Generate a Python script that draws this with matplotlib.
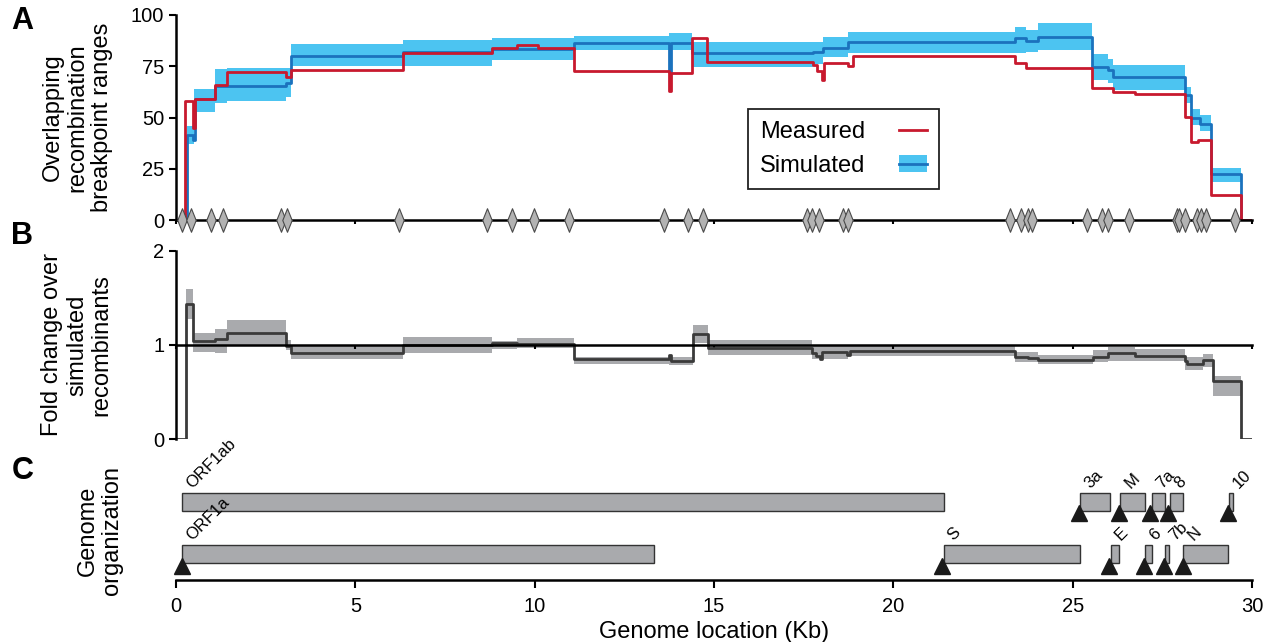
import numpy as np
import matplotlib
matplotlib.use('Agg')
import matplotlib.pyplot as plt
from matplotlib.patches import Patch, Rectangle
from matplotlib.lines import Line2D
from matplotlib.path import Path

plt.rcParams['font.family'] = ['Liberation Sans', 'DejaVu Sans']

# --- A: overlapping breakpoint ranges (step data, value holds until next x) ---
meas_x = [0, 0.25, 0.48, 0.52, 1.09, 1.41, 3.07, 3.2, 6.33, 8.8, 9.5, 10.1, 11.1, 13.75, 13.8,
          14.4, 14.8, 17.77, 17.86, 18.02, 18.07, 18.73, 18.87, 23.4, 23.7, 25.55, 26.13,
          26.74, 28.13, 28.31, 28.5, 28.87, 29.69]
meas_y = [0, 58, 45, 59, 66, 72, 70, 73.3, 81.3, 84, 85.5, 84, 72.5, 63, 71.5, 89, 77.2, 75.6,
          72.7, 68.3, 76.4, 75.3, 80.2, 76.4, 74.3, 64.2, 62.3, 61.3, 50.4, 38.2, 38.9, 12.2, 0]

sim_x = [0, 0.3, 0.48, 0.52, 1.09, 3.07, 3.2, 6.33, 8.8, 11.1, 13.75, 13.8, 14.4, 17.77, 18.05,
         18.73, 23.4, 23.7, 24.03, 25.55, 25.98, 26.13, 28.13, 28.31, 28.55, 28.87, 29.69]
sim_y = [0, 41.6, 39, 59, 65.4, 67, 80, 81.8, 83.5, 86.5, 72, 86.5, 81.3, 81.8, 84, 87, 88.6,
         87.5, 89.4, 74.8, 73.2, 69.6, 61, 50, 47, 22.4, 0]

band_x = [0.3, 0.5, 1.09, 1.41, 3.07, 3.2, 6.33, 8.8, 11.1, 13.75, 14.4, 17.77, 18.05, 18.73,
          23.4, 23.7, 24.03, 25.55, 25.98, 26.13, 28.13, 28.31, 28.55, 28.87, 29.69]
band_lo = [37, 52.5, 57, 58, 60, 75, 75, 78, 83, 82.7, 74.8, 76, 79.7, 81.3, 81.3, 81.8, 82.9,
           68.3, 66.6, 63.4, 56.9, 46.3, 43.2, 18.7]
band_hi = [45.9, 64, 73.5, 74, 74, 86, 88, 88.6, 90, 91, 86.7, 87, 89.4, 91.9, 94.3, 92.7, 96,
           80.8, 78.4, 75.6, 65, 54, 51.2, 25.5]

bp_pos = [0.16, 0.41, 0.97, 1.30, 2.93, 3.09, 6.21, 8.68, 9.38, 9.99, 10.96, 13.60, 14.27,
          14.68, 17.60, 17.72, 17.93, 18.60, 18.73, 23.25, 23.55, 23.76, 23.87, 25.41, 25.81,
          25.99, 26.57, 27.90, 27.97, 28.14, 28.46, 28.57, 28.71, 29.52]

# --- B: fold change ---
fold_x = [0, 0.28, 0.48, 1.09, 1.41, 3.07, 3.2, 6.33, 8.8, 9.5, 11.1, 13.75, 13.8, 14.42, 14.82,
          17.72, 17.85, 17.95, 18.0, 18.7, 18.78, 23.39, 23.76, 24.04, 25.57, 25.99, 26.74,
          28.13, 28.2, 28.64, 28.9, 29.68]
fold_y = [0, 1.43, 1.04, 1.06, 1.13, 0.985, 0.92, 1.0, 1.02, 1.01, 0.85, 0.89, 0.83, 1.12, 0.97,
          0.92, 0.88, 0.85, 0.93, 0.89, 0.94, 0.87, 0.86, 0.84, 0.87, 0.91, 0.885, 0.83, 0.80,
          0.84, 0.62, 0]

fband_x = [0.28, 0.48, 1.09, 1.41, 3.07, 3.2, 6.33, 8.8, 9.5, 11.1, 13.75, 14.42, 14.82, 17.72,
           18.74, 23.39, 24.04, 25.57, 25.99, 26.74, 28.13, 28.64, 28.9, 29.68]
fband_lo = [1.28, 0.93, 0.92, 0.99, 0.95, 0.855, 0.92, 0.96, 0.97, 0.80, 0.79, 1.02, 0.89, 0.85,
            0.88, 0.82, 0.80, 0.82, 0.83, 0.83, 0.73, 0.77, 0.46]
fband_hi = [1.59, 1.13, 1.17, 1.26, 1.05, 0.985, 1.09, 1.04, 1.07, 0.87, 0.87, 1.21, 1.05, 0.99,
            0.99, 0.93, 0.89, 0.95, 0.98, 0.96, 0.87, 0.90, 0.67]

# --- C: genome organization ---
gene_names = ['ORF1ab', 'ORF1a', 'S', '3a', 'E', 'M', '6', '7a', '7b', '8', 'N', '10']
gene_start = [0.16, 0.16, 21.4, 25.21, 26.06, 26.33, 27.03, 27.21, 27.58, 27.71, 28.08, 29.36]
gene_end = [21.4, 13.34, 25.21, 26.05, 26.29, 27.02, 27.21, 27.58, 27.69, 28.08, 29.34, 29.48]
gene_row = [1, 0, 0, 1, 0, 1, 0, 1, 0, 1, 0, 1]
trs_pos = [0.16, 21.35, 25.17, 26.02, 26.30, 27.0, 27.15, 27.56, 27.67, 28.07, 29.32]
trs_row = [0, 0, 1, 0, 1, 0, 1, 0, 1, 0, 1]

xticks = [0, 5, 10, 15, 20, 25, 30]

red = '#c8192e'
blue = '#1b72bd'
lblue = '#4cc4f1'
gband = '#a9aaad'
dgray = '#3a3a3a'

TICK = 14.5
LAB = 17


def steps(x, y, end=30):
    return np.append(x, end), np.append(y, y[-1])


fig = plt.figure(figsize=(12.66, 6.42), dpi=100)
L, W = 176 / 1266, 1076 / 1266
axA = fig.add_axes([L, 1 - 220 / 642, W, 205 / 642])
axB = fig.add_axes([L, 1 - 439.3 / 642, W, 188.6 / 642])
axC = fig.add_axes([L, 1 - 580 / 642, W, 110 / 642])

# panel A
bx, blo = steps(band_x[:-1], band_lo, band_x[-1])
_, bhi = steps(band_x[:-1], band_hi, band_x[-1])
axA.fill_between(bx, blo, bhi, step='post', color=lblue, lw=0, zorder=1)
sx, sy = steps(sim_x, sim_y)
axA.plot(sx, sy, drawstyle='steps-post', color=blue, lw=2, zorder=2)
mx, my = steps(meas_x, meas_y)
axA.plot(mx, my, drawstyle='steps-post', color=red, lw=2, zorder=2.2)
diamond = Path([(0, 1), (0.4, 0), (0, -1), (-0.4, 0), (0, 1)],
               [Path.MOVETO, Path.LINETO, Path.LINETO, Path.LINETO, Path.CLOSEPOLY])
axA.plot(bp_pos, np.zeros(len(bp_pos)), ls='none', marker=diamond, ms=17,
         mfc='#b3b3b3', mec='#4a4a4a', mew=0.8, zorder=4, clip_on=False)
axA.set_xlim(0, 30)
axA.set_ylim(0, 100)
axA.set_yticks([0, 25, 50, 75, 100])
axA.set_xticks(xticks)
axA.tick_params(axis='x', labelbottom=False, length=3, width=1.5, direction='out')
axA.tick_params(axis='y', labelsize=TICK, length=5, width=1.5)
for s in ['top', 'right']:
    axA.spines[s].set_visible(False)
for s in ['left', 'bottom']:
    axA.spines[s].set_linewidth(1.8)
axA.set_ylabel('Overlapping\nrecombination\nbreakpoint ranges', fontsize=LAB, linespacing=1.15)
axA.yaxis.set_label_coords(-0.059, 0.5)

h_meas = Line2D([], [], color=red, lw=2)
h_sim = (Patch(facecolor=lblue, edgecolor='none'), Line2D([], [], color=blue, lw=2))
leg = axA.legend([h_meas, h_sim], ['Measured', 'Simulated'], loc='upper left',
                 bbox_to_anchor=(0.532, 0.54), markerfirst=False, fontsize=LAB,
                 fancybox=False, framealpha=1, edgecolor='#222222', handlelength=1.2,
                 handletextpad=1.4, borderpad=0.5, labelspacing=0.5, borderaxespad=0)
leg.get_frame().set_linewidth(1.3)

# panel B
fx, flo = steps(fband_x[:-1], fband_lo, fband_x[-1])
_, fhi = steps(fband_x[:-1], fband_hi, fband_x[-1])
axB.fill_between(fx, flo, fhi, step='post', color=gband, lw=0, zorder=1)
ox, oy = steps(fold_x, fold_y)
axB.plot(ox, oy, drawstyle='steps-post', color=dgray, lw=2, zorder=2)
axB.set_xlim(0, 30)
axB.set_ylim(0, 2)
axB.set_yticks([0, 1, 2])
axB.set_xticks(xticks)
axB.spines['bottom'].set_position(('data', 1))
axB.tick_params(axis='x', labelbottom=False, length=3, width=1.5, direction='out')
axB.tick_params(axis='y', labelsize=TICK, length=5, width=1.5)
for s in ['top', 'right']:
    axB.spines[s].set_visible(False)
for s in ['left', 'bottom']:
    axB.spines[s].set_linewidth(1.8)
axB.set_ylabel('Fold change over\nsimulated\nrecombinants', fontsize=LAB, linespacing=1.15)
axB.yaxis.set_label_coords(-0.059, 0.5)

# panel C
row_y = [1.7, 6.9]
tri_y = [1.45, 6.7]
for name, a, b, r in zip(gene_names, gene_start, gene_end, gene_row):
    axC.add_patch(Rectangle((a, row_y[r]), b - a, 1.85, facecolor=gband,
                            edgecolor='#333333', lw=1, zorder=2))
    axC.text(a + 0.28, row_y[r] + 2.2, name, rotation=45, rotation_mode='anchor',
             ha='left', va='baseline', fontsize=12, zorder=5)
axC.plot(trs_pos, [tri_y[r] for r in trs_row], ls='none', marker='^', ms=11,
         color='#1a1a1a', zorder=3, clip_on=False)
axC.set_xlim(0, 30)
axC.set_ylim(0, 11)
axC.set_xticks(xticks)
axC.set_yticks([])
for s in ['top', 'right', 'left']:
    axC.spines[s].set_visible(False)
axC.spines['bottom'].set_linewidth(1.8)
axC.tick_params(axis='x', labelsize=TICK, length=6, width=1.5, pad=6)
axC.set_xlabel('Genome location (Kb)', fontsize=LAB, labelpad=4)
axC.set_ylabel('Genome\norganization', fontsize=LAB, linespacing=1.15)
axC.yaxis.set_label_coords(-0.049, 0.45)

for letter, y in [('A', 0.99), ('B', 0.656), ('C', 0.29)]:
    fig.text(0.009, y, letter, fontsize=22, fontweight='bold', va='top', ha='left')

fig.savefig('out.png', dpi=100)
